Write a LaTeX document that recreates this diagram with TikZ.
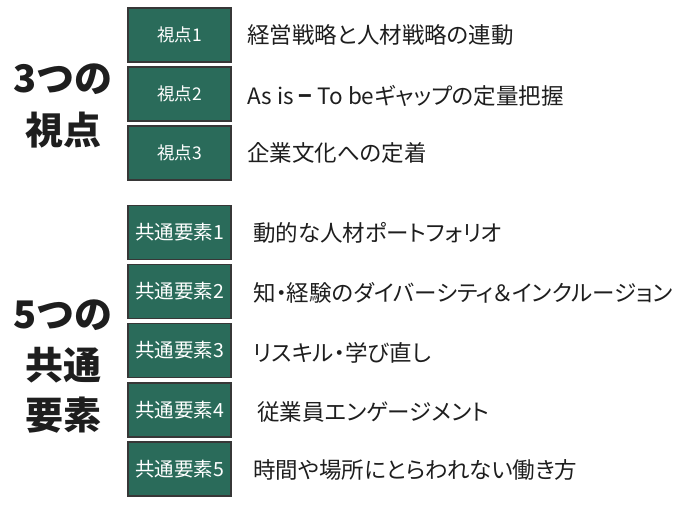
\documentclass[tikz,border=0pt]{standalone}
\usepackage{fontspec}
\setmainfont{Noto Sans CJK JP}
\newfontfamily\jpp{Noto Sans CJK JP}[RawFeature=+palt]
\definecolor{boxgreen}{RGB}{42,107,90}
\definecolor{boxline}{RGB}{55,55,55}
\definecolor{txt}{RGB}{30,30,30}
\begin{document}
\begin{tikzpicture}[x=1pt,y=-1pt,
  box/.style={draw=boxline, fill=boxgreen, line width=1.3pt, minimum width=103pt, minimum height=54pt, inner sep=0pt, text=white},
  boxa/.style={box, font=\fontsize{17.5}{20}\selectfont},
  boxb/.style={box, font=\fontsize{19.5}{22}\selectfont},
  item/.style={anchor=west, inner sep=0pt, text=txt, font=\jpp\fontsize{22.5}{24}\selectfont},
  big/.style={inner sep=0pt, text=txt, font=\fontsize{38}{40}\selectfont\bfseries}]
\useasboundingbox (0,0) rectangle (690,506);
% top group
\node[big] (t1) at (63,79) {3つの};
\node[big] (t2) at (63,130) {視点};
\node[boxa] (v1) at (179.5,35) {視点1};
\node[boxa] (v2) at (179.5,94) {視点2};
\node[boxa] (v3) at (179.5,153) {視点3};
\node[item] (a1) at (247,35) {経営戦略と人材戦略の連動};
\node[item] (a2) at (247,96) {As is {\bfseries −} To beギャップの定量把握};
\node[item] (a3) at (247,153) {企業文化への定着};
% bottom group
\node[big] (b1) at (63,315) {5つの};
\node[big] (b2) at (63,365) {共通};
\node[big] (b3) at (63,415) {要素};
\node[boxb] (c1) at (179.5,232.5) {共通要素1};
\node[boxb] (c2) at (179.5,291.5) {共通要素2};
\node[boxb] (c3) at (179.5,350.5) {共通要素3};
\node[boxb] (c4) at (179.5,410) {共通要素4};
\node[boxb] (c5) at (179.5,469) {共通要素5};
\node[item] (d1) at (253,233) {動的な人材ポートフォリオ};
\node[item] (d2) at (253,293) {知・経験のダイバーシティ＆インクルージョン};
\node[item] (d3) at (253,353) {リスキル・学び直し};
\node[item] (d4) at (257,412) {従業員エンゲージメント};
\node[item] (d5) at (253,470) {時間や場所にとらわれない働き方};
\end{tikzpicture}
\end{document}
